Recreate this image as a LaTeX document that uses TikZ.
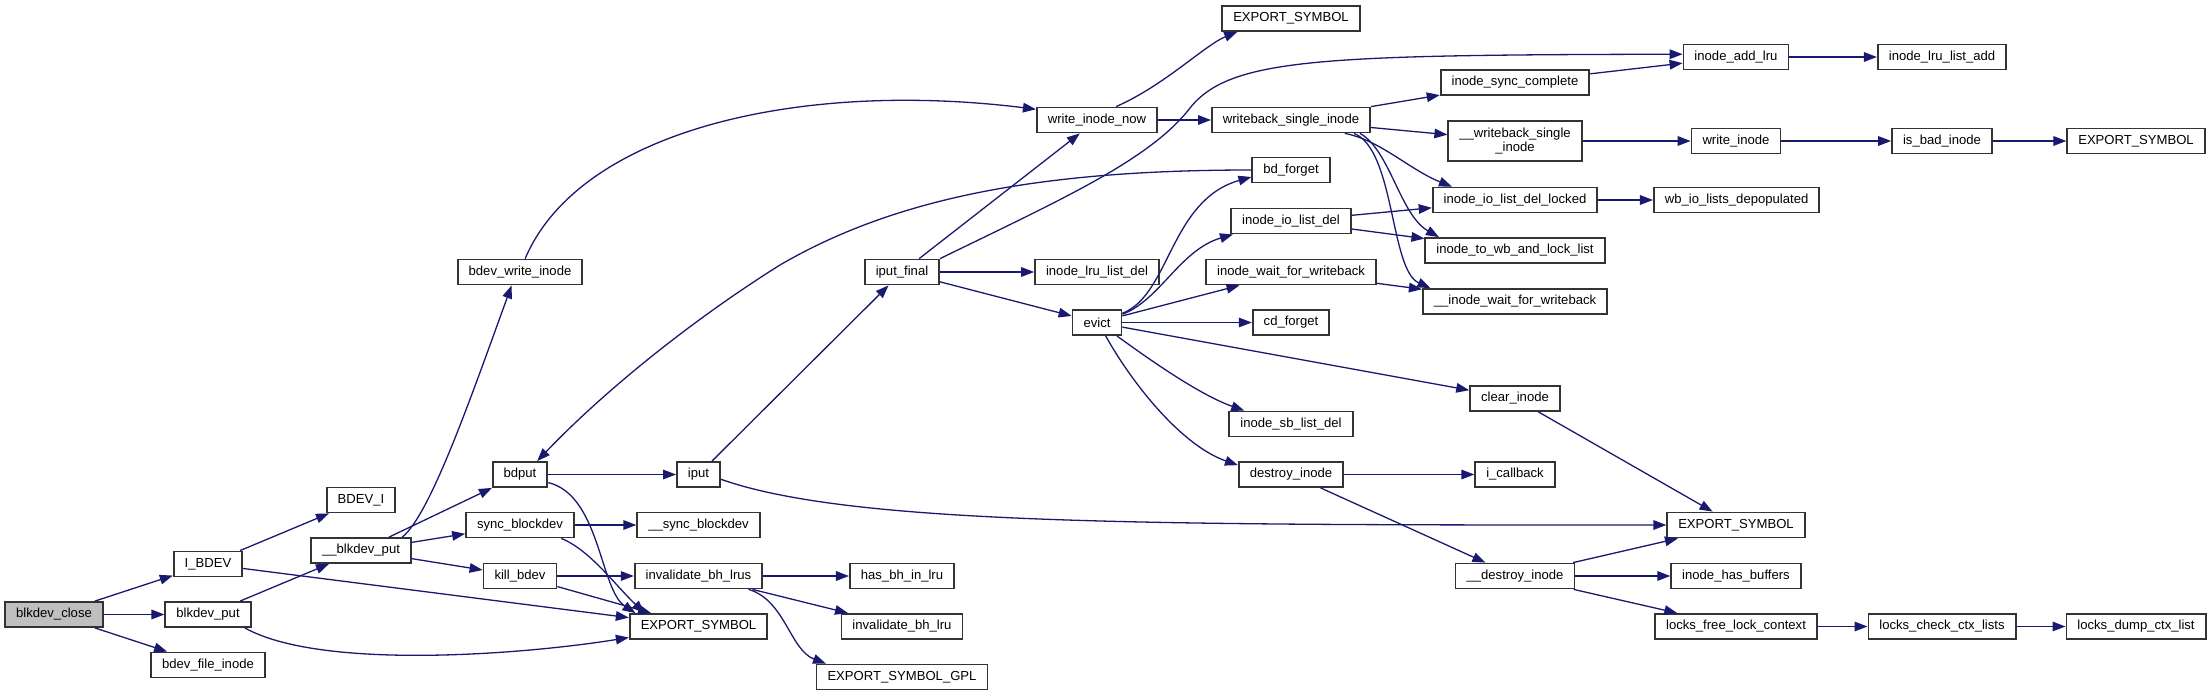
\documentclass[tikz,border=0pt]{standalone}
\usepackage{fontspec}
\setmainfont{Liberation Sans}
\usepackage{tikz}
\usetikzlibrary{arrows.meta}
\definecolor{edgeblue}{HTML}{191970}
\definecolor{rootgray}{HTML}{BFBFBF}
\definecolor{boxline}{HTML}{333333}
\tikzset{
  % one box per function
  fn/.style={draw=boxline, line width=0.9pt, fill=white,
    minimum height=12.5pt, inner xsep=5.5pt, inner ysep=0pt,
    font=\fontsize{6.55pt}{7.4pt}\selectfont},
  root/.style={fn, fill=rootgray},
  % caller -> callee
  call/.style={edgeblue, line width=0.65pt,
    -{Triangle[length=6.5pt, width=4.8pt]}},
}

\begin{document}
\begin{tikzpicture}[x=0.5pt, y=-0.5pt]
    \useasboundingbox (0,0) rectangle (2212,696);

    % Callers on the left
    \node[root] (close) at (54,614.5) {blkdev\_close};
    \node[fn] (ibdev) at (208,564) {I\_BDEV};
    \node[fn] (bput) at (208,614.5) {blkdev\_put};
    \node[fn] (bfi) at (208,665) {bdev\_file\_inode};
    \node[fn] (bdevi) at (361,500) {BDEV\_I};
    \node[fn] (bputx) at (361,550.5) {\_\_blkdev\_put};

    % Block device layer
    \node[fn] (bwi) at (520,272) {bdev\_write\_inode};
    \node[fn] (bdput) at (520,474.5) {bdput};
    \node[fn] (sync) at (520,525) {sync\_blockdev};
    \node[fn] (kill) at (520,576) {kill\_bdev};
    \node[fn] (iput) at (698.5,474.5) {iput};
    \node[fn] (syncx) at (698.5,525) {\_\_sync\_blockdev};
    \node[fn] (lrus) at (698.5,576) {invalidate\_bh\_lrus};
    \node[fn] (expLow) at (698.5,626.5) {EXPORT\_SYMBOL};
    \node[fn] (ipf) at (902,272) {iput\_final};
    \node[fn] (hasbh) at (902,576) {has\_bh\_in\_lru};
    \node[fn] (lru) at (902,626.5) {invalidate\_bh\_lru};
    \node[fn] (gpl) at (902,677) {EXPORT\_SYMBOL\_GPL};

    % Inode layer
    \node[fn] (win) at (1097,120) {write\_inode\_now};
    \node[fn] (lrudel) at (1097,272) {inode\_lru\_list\_del};
    \node[fn] (evict) at (1097,322.5) {evict};
    \node[fn] (expTop) at (1291,18.5) {EXPORT\_SYMBOL};
    \node[fn] (wsi) at (1291,120) {writeback\_single\_inode};
    \node[fn] (bdf) at (1291,170) {bd\_forget};
    \node[fn] (iild) at (1291,221) {inode\_io\_list\_del};
    \node[fn] (iwait) at (1291,272) {inode\_wait\_for\_writeback};
    \node[fn] (cdf) at (1291,322.5) {cd\_forget};
    \node[fn] (sbdel) at (1291,424) {inode\_sb\_list\_del};
    \node[fn] (dino) at (1291,474.5) {destroy\_inode};
    \node[fn] (isc) at (1515,82.5) {inode\_sync\_complete};
    \node[fn, minimum height=20pt, align=center] (wsix) at (1515,141)
        {\_\_writeback\_single\\\_inode};
    \node[fn] (iolock) at (1515,200) {inode\_io\_list\_del\_locked};
    \node[fn] (towb) at (1515,250.5) {inode\_to\_wb\_and\_lock\_list};
    \node[fn] (iwaitx) at (1515,301.5) {\_\_inode\_wait\_for\_writeback};
    \node[fn] (clr) at (1515,398.5) {clear\_inode};
    \node[fn] (icb) at (1515,474.5) {i\_callback};
    \node[fn] (dinox) at (1515,576) {\_\_destroy\_inode};

    % Leaves on the right
    \node[fn] (addlru) at (1736,57) {inode\_add\_lru};
    \node[fn] (wino) at (1736,141) {write\_inode};
    \node[fn] (depop) at (1736.6,200) {wb\_io\_lists\_depopulated};
    \node[fn] (expMid) at (1736,525) {EXPORT\_SYMBOL};
    \node[fn] (hasbuf) at (1736,576) {inode\_has\_buffers};
    \node[fn] (lflc) at (1736,626.5) {locks\_free\_lock\_context};
    \node[fn] (lruadd) at (1942,57) {inode\_lru\_list\_add};
    \node[fn] (bad) at (1942,141) {is\_bad\_inode};
    \node[fn] (lccl) at (1942,626.5) {locks\_check\_ctx\_lists};
    \node[fn] (expRight) at (2136,141) {EXPORT\_SYMBOL};
    \node[fn] (ldcl) at (2136,626.5) {locks\_dump\_ctx\_list};

    % Straight calls
    \foreach \a/\b in {close/ibdev, close/bput, close/bfi, ibdev/bdevi,
        ibdev/expLow, bput/bputx, bputx/bdput, bputx/sync, bputx/kill,
        bdput/iput, sync/syncx, kill/lrus, kill/expLow, lrus/hasbh,
        lrus/lru, iput/ipf, ipf/win, ipf/lrudel, ipf/evict, win/wsi,
        wsi/isc, wsi/wsix, isc/addlru, addlru/lruadd, wsix/wino,
        wino/bad, bad/expRight, iolock/depop, evict/iwait, evict/cdf,
        evict/clr, iild/iolock, iild/towb, iwait/iwaitx, clr/expMid,
        dino/icb, dino/dinox, dinox/expMid, dinox/hasbuf, dinox/lflc,
        lflc/lccl, lccl/ldcl} {
        \draw[call] (\a) -- (\b);
    }

    % Curved calls, left part
    \draw[call] (bput.-20) .. controls (320,670) and (520,655) .. (expLow.189);
    \draw[call] (bputx.18) .. controls (430,515) and (470,400) .. (bwi.-122);
    \draw[call] (bwi.69) .. controls (580,130) and (800,80) .. (win.170);
    \draw[call] (bdput.-16) .. controls (600,495) and (600,590) .. (expLow.168);
    \draw[call] (sync.-18) .. controls (590,550) and (615,585) .. (expLow.166);
    \draw[call] (lrus.-15) .. controls (785,600) and (790,650) .. (gpl.170);
    \draw[call] (iput.-12) .. controls (850,525) and (1150,525) .. (expMid.west);

    % Long ones across the middle
    \draw[call] (ipf.north east) .. controls (1060,200) and (1150,160) .. (1190,108)
        .. controls (1230,58) and (1320,55) .. (addlru.177);
    \draw[call] (bdf.west) .. controls (1050,170) and (900,195) .. (780,265)
        .. controls (700,315) and (610,385) .. (bdput.38);
    \draw[call] (win.35) .. controls (1165,85) and (1205,45) .. (expTop.-166);

    % writeback_single_inode fan
    \draw[call] (wsi.-14.5) .. controls (1380,140) and (1410,170) .. (iolock.168);
    \draw[call] (wsi.-11) .. controls (1390,150) and (1400,215) .. (towb.170.5);
    \draw[call] (wsi.-12.5) .. controls (1395,150) and (1390,270) .. (iwaitx.171);

    % evict fan
    \draw[call] (evict.20) .. controls (1170,295) and (1170,200) .. (bdf.190);
    \draw[call] (evict.18) .. controls (1160,300) and (1180,250) .. (iild.193);
    \draw[call] (evict.-34) .. controls (1150,360) and (1200,395) .. (sbdel.164);
    \draw[call] (evict.-57) .. controls (1130,380) and (1180,445) .. (dino.170);
\end{tikzpicture}
\end{document}
